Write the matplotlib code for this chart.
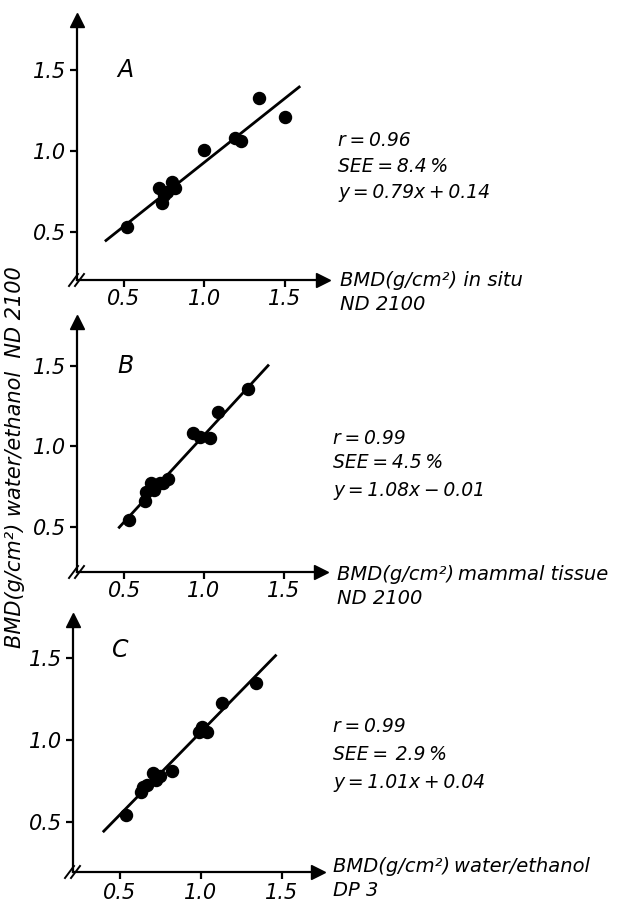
import numpy as np
import matplotlib
matplotlib.use('Agg')
import matplotlib.pyplot as plt

# panel A: in situ vs water/ethanol ND 2100
xa = [0.52, 0.72, 0.74, 0.75, 0.77, 0.80, 0.82, 1.00, 1.19, 1.23, 1.34, 1.50]
ya = [0.53, 0.77, 0.68, 0.73, 0.75, 0.81, 0.77, 1.01, 1.08, 1.06, 1.33, 1.21]
# panel B: mammal tissue
xb = [0.53, 0.63, 0.64, 0.67, 0.69, 0.725, 0.745, 0.775, 0.93, 0.975, 1.04, 1.09, 1.275]
yb = [0.54, 0.66, 0.72, 0.77, 0.73, 0.775, 0.77, 0.80, 1.085, 1.06, 1.05, 1.215, 1.355]
# panel C: water/ethanol DP 3
xc = [0.535, 0.63, 0.645, 0.665, 0.705, 0.725, 0.745, 0.82, 0.99, 1.005, 1.035, 1.13, 1.34]
yc = [0.543, 0.685, 0.715, 0.725, 0.80, 0.755, 0.78, 0.81, 1.05, 1.08, 1.05, 1.225, 1.35]

fits = [(0.79, 0.14), (1.08, -0.01), (1.01, 0.04)]
fit_x = [(0.39, 1.59), (0.47, 1.40), (0.40, 1.46)]
letters = ['A', 'B', 'C']
ts = '\u2009'
stats = [['r = 0.96', 'SEE = 8.4 %', 'y = 0.79x + 0.14'],
         ['r = 0.99', 'SEE = 4.5 %', 'y = 1.08x − 0.01'],
         ['r = 0.99', 'SEE =  2.9 %', 'y = 1.01x + 0.04']]
stats = [[s.replace(' ', ts) for s in grp] for grp in stats]
xlabels = [['BMD(g/cm²) in situ', 'ND 2100'],
           ['BMD(g/cm²)' + ts + 'mammal tissue', 'ND 2100'],
           ['BMD(g/cm²)' + ts + 'water/ethanol', 'DP 3']]
ticks = [0.5, 1.0, 1.5]
tick_labels = ['0.5', '1.0', '1.5']

plt.rcParams['font.family'] = ['DejaVu Sans']
plt.rcParams['font.style'] = 'italic'

W, H = 624, 902
fig = plt.figure(figsize=(W / 100, H / 100), dpi=100)

# axes boxes in pixels: left, right, bottom (x axis), top, and limits
boxes = [(77, 323, 280, 20, 0.21, 1.738, 0.204, 1.81),
         (77, 321, 572, 322, 0.206, 1.731, 0.22, 1.773),
         (73, 318, 872, 620, 0.21, 1.722, 0.195, 1.732)]
stat_pos = [(338, [141, 167, 192]), (333, [438, 463, 490]), (333, [727, 755, 782])]
xlab_pos = [(340, 280, 305), (337, 575, 598), (333, 867, 890)]
data = [(xa, ya), (xb, yb), (xc, yc)]

fs = 14
for i in range(3):
    l, r, b, t, x0, x1, y0, y1 = boxes[i]
    ax = fig.add_axes([l / W, 1 - b / H, (r - l) / W, (b - t) / H])
    ax.set_xlim(x0, x1)
    ax.set_ylim(y0, y1)
    for s in ['top', 'right']:
        ax.spines[s].set_visible(False)
    for s in ['left', 'bottom']:
        ax.spines[s].set_linewidth(1.6)
    ax.set_xticks(ticks)
    ax.set_yticks(ticks)
    ax.set_xticklabels(tick_labels if i == 2 else ['', '', ''])
    ax.set_yticklabels(tick_labels)
    ax.tick_params(length=5, width=1.6, labelsize=15, pad=3)
    ax.patch.set_alpha(0)

    # arrow heads
    ax.plot(1, 0, '>', color='k', markersize=10, transform=ax.transAxes, clip_on=False)
    ax.plot(0, 1, '^', color='k', markersize=10, transform=ax.transAxes, clip_on=False)
    # axis break marks
    pw, ph = r - l, b - t
    for dx in (-3, 3):
        ax.plot([(dx - 5) / pw, (dx + 4) / pw], [-6 / ph, 6 / ph], color='k', lw=1.4,
                transform=ax.transAxes, clip_on=False)

    x, y = data[i]
    ax.scatter(x, y, s=75, color='k', zorder=3, clip_on=False)
    m, c = fits[i]
    fx = np.array(fit_x[i])
    ax.plot(fx, m * fx + c, color='k', lw=2)

    ax.text(0.46 if i < 2 else 0.45, 1.5 if i < 2 else 1.55, letters[i], fontsize=17,
            va='center', ha='left')

    sx, sys_ = stat_pos[i]
    for txt, yy in zip(stats[i], sys_):
        fig.text(sx / W, 1 - yy / H, txt, fontsize=13.5, va='center', ha='left')
    lx, ly1, ly2 = xlab_pos[i]
    fig.text(lx / W, 1 - ly1 / H, xlabels[i][0], fontsize=fs, va='center', ha='left')
    fig.text(lx / W, 1 - ly2 / H, xlabels[i][1], fontsize=fs, va='center', ha='left')

# tick labels on the x axes of A and B drawn under each axis
for i in range(2):
    l, r, b, t, x0, x1, y0, y1 = boxes[i]
    for tk, lab in zip(ticks, tick_labels):
        px = l + (tk - x0) / (x1 - x0) * (r - l)
        fig.text(px / W, 1 - (b + 19) / H, lab, fontsize=15, ha='center', va='center')

fig.text(15 / W, 1 - 457 / H, 'BMD(g/cm²) water/ethanol  ND 2100', fontsize=15,
         rotation=90, ha='center', va='center')

fig.savefig('out.png', dpi=100)
